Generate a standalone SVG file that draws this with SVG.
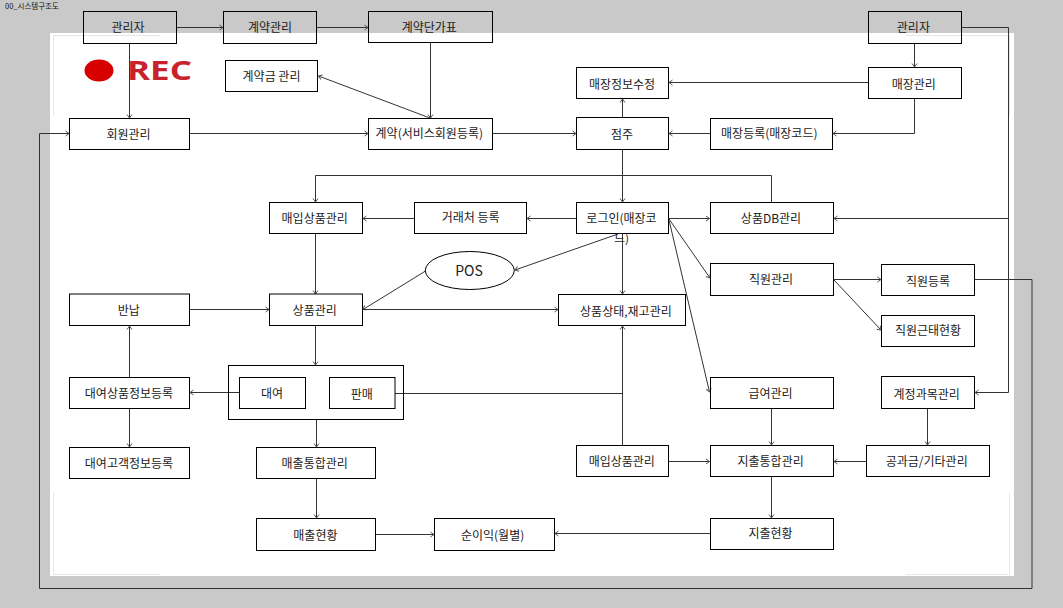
<svg xmlns="http://www.w3.org/2000/svg" width="1063" height="608" viewBox="0 0 1063 608">
<style>
.b{fill:none;stroke:#000;stroke-width:1}
.t{font-family:"Noto Sans CJK KR","Liberation Sans",sans-serif;font-size:12px;fill:#1a1a1a;text-anchor:middle}
.c{fill:none;stroke:#333;stroke-width:1;marker-end:url(#a)}
.n{fill:none;stroke:#333;stroke-width:1}
.m{fill:none;stroke:#e6e6e6;stroke-width:1}
</style>
<defs>
<marker id="a" markerUnits="userSpaceOnUse" markerWidth="8" markerHeight="8" refX="5" refY="4" orient="auto">
<path d="M1.500 1.500 L5 4 L1.500 6.500" fill="none" stroke="#555" stroke-width="1"/>
</marker>
</defs>
<rect width="1063" height="608" fill="#c9c9c9"/>
<rect x="50" y="33" width="964" height="543" fill="#fff"/>
<path class="m" d="M160 35.500H53.500V116M906 35.500H1009.500V116M53.500 493V574.500H160M906 574.500H1009.500V493"/>
<text x="5" y="9" style="font-family:'Noto Sans CJK KR','Liberation Sans',sans-serif;font-size:7.500px;fill:#111">00_시스템구조도</text>
<g id="rec">
<ellipse cx="99" cy="70.500" rx="14.500" ry="11" fill="#d60000"/>
<text x="127" y="79.500" style="font-family:'Open Sans','Liberation Sans',sans-serif;font-size:27px;font-weight:700;fill:#c8232c" textLength="65" lengthAdjust="spacingAndGlyphs">REC</text>
</g>
<g id="connectors">
<path class="c" d="M177 27.500H223"/>
<path class="c" d="M317 27.500H368"/>
<path class="c" d="M129.500 43.500V118"/>
<path class="c" d="M430.500 42.500V118"/>
<path class="c" d="M430 118L318.500 76"/>
<path class="c" d="M190 133.500H368"/>
<path class="c" d="M492.500 133.500H576"/>
<path class="c" d="M975 279.500H1032V588.500H39.500V133.500H69"/>
<path class="c" d="M914.500 43.500V67"/>
<path class="c" d="M961.700 27.500H1008.500V392.500H975"/>
<path class="c" d="M1008.500 218.500H834"/>
<path class="c" d="M868 82.500H669"/>
<path class="c" d="M914.500 99V133.500H833"/>
<path class="c" d="M710 133.500H669"/>
<path class="c" d="M622.500 117.500V99"/>
<path class="c" d="M622.500 149.500V202"/>
<path class="c" d="M771.500 202.500V175.500H315.500V202"/>
<path class="c" d="M576 218.500H527"/>
<path class="c" d="M414 218.500H363"/>
<path class="c" d="M315.500 233.500V294"/>
<path class="c" d="M669 218.500H709.500"/>
<path class="c" d="M669 219L710 278"/>
<path class="c" d="M669 220L709.500 392"/>
<path class="c" d="M618 234L515 270"/>
<path class="c" d="M622.500 234V294"/>
<path class="c" d="M834 279.500H881"/>
<path class="c" d="M834 280L881 330"/>
<path class="c" d="M425.500 271L363 309.500"/>
<path class="c" d="M363 309.500H558"/>
<path class="c" d="M190 309.500H269"/>
<path class="c" d="M315.500 325.500V365"/>
<path class="c" d="M316.500 419.500V447"/>
<path class="c" d="M316.500 478.500V518"/>
<path class="c" d="M239 392.500H190"/>
<path class="c" d="M129.500 377.500V326"/>
<path class="c" d="M129.500 408.500V447"/>
<path class="n" d="M395 393.500H622.500"/>
<path class="c" d="M622.500 445.500V326"/>
<path class="c" d="M669 461.500H709.500"/>
<path class="c" d="M771.500 408.500V445"/>
<path class="c" d="M927.500 408.500V445"/>
<path class="c" d="M866 461.500H834"/>
<path class="c" d="M771.500 476.500V518"/>
<path class="c" d="M710 533.500H555"/>
<path class="c" d="M376 534.500H434"/>
</g>
<g id="n1"><rect class="b" x="83.500" y="11.500" width="93" height="32"/><text class="t" x="128" y="32">관리자</text></g>
<g id="n2"><rect class="b" x="223.500" y="11.500" width="93" height="32"/><text class="t" x="270" y="32">계약관리</text></g>
<g id="n3"><rect class="b" x="368.500" y="11.500" width="124" height="31"/><text class="t" x="429.300" y="32">계약단가표</text></g>
<g id="n4"><rect class="b" x="225.500" y="60.500" width="92" height="31"/><text class="t" x="271.500" y="80.500">계약금 관리</text></g>
<g id="n5"><rect class="b" x="69.500" y="118.500" width="120" height="31"/><text class="t" x="128.500" y="139">회원관리</text></g>
<g id="n6"><rect class="b" x="368.500" y="118.500" width="124" height="31"/><text class="t" x="429.300" y="138">계약(서비스회원등록)</text></g>
<g id="n7"><rect class="b" x="576.500" y="67.500" width="92" height="31"/><text class="t" x="622" y="88.500">매장정보수정</text></g>
<g id="n8"><rect class="b" x="868.500" y="11.500" width="93" height="32"/><text class="t" x="913.400" y="32">관리자</text></g>
<g id="n9"><rect class="b" x="868.500" y="67.500" width="93" height="31"/><text class="t" x="913.800" y="89">매장관리</text></g>
<g id="n10"><rect class="b" x="576.500" y="117.500" width="92" height="32"/><text class="t" x="622" y="138.500">점주</text></g>
<g id="n11"><rect class="b" x="710.500" y="118.500" width="122" height="31"/><text class="t" x="769.300" y="138">매장등록(매장코드)</text></g>
<g id="n12"><rect class="b" x="269.500" y="202.500" width="93" height="31"/><text class="t" x="314.700" y="223">매입상품관리</text></g>
<g id="n13"><rect class="b" x="414.500" y="202.500" width="112" height="31"/><text class="t" x="470.600" y="222">거래처 등록</text></g>
<g id="n14"><rect class="b" x="576.500" y="202.500" width="92" height="31"/><text class="t" x="621.500" y="222.500">로그인(매장코<tspan x="621.500" dy="20">드)</tspan></text></g>
<g id="n15"><rect class="b" x="710.500" y="202.500" width="123" height="31"/><text class="t" x="771" y="222.500">상품DB관리</text></g>
<g id="n16"><ellipse class="b" cx="469.800" cy="270.500" rx="44.500" ry="19"/><text class="t" x="469" y="275.500" style="font-size:14px">POS</text></g>
<g id="n17"><rect class="b" x="69.500" y="294" width="120" height="31.500"/><text class="t" x="128.800" y="315">반납</text></g>
<g id="n18"><rect class="b" x="269.500" y="294" width="93" height="31.500"/><text class="t" x="314.700" y="315">상품관리</text></g>
<g id="n19"><rect class="b" x="558.500" y="294.500" width="127" height="31"/><text class="t" x="625.900" y="316">상품상태,재고관리</text></g>
<g id="n20"><rect class="b" x="710.500" y="263.500" width="123" height="32"/><text class="t" x="771" y="284">직원관리</text></g>
<g id="n21"><rect class="b" x="881.500" y="264.500" width="93" height="31"/><text class="t" x="928" y="285.500">직원등록</text></g>
<g id="n22"><rect class="b" x="881.500" y="315.500" width="93" height="31"/><text class="t" x="928" y="335">직원근태현황</text></g>
<g id="n23"><rect class="b" x="69.500" y="377.500" width="120" height="31"/><text class="t" x="129" y="398">대여상품정보등록</text></g>
<g id="n24"><rect class="b" x="228.500" y="365.500" width="175" height="54"/>
<g id="n25"><rect class="b" x="239.500" y="377.500" width="66" height="31"/><text class="t" x="272" y="397.500">대여</text></g>
<g id="n26"><rect class="b" x="329.500" y="377.500" width="65.500" height="31"/><text class="t" x="361.700" y="399">판매</text></g></g>
<g id="n27"><rect class="b" x="710.500" y="377.500" width="123" height="31"/><text class="t" x="770.600" y="398">급여관리</text></g>
<g id="n28"><rect class="b" x="881.500" y="376.500" width="93" height="32"/><text class="t" x="926.700" y="399">계정과목관리</text></g>
<g id="n29"><rect class="b" x="69.500" y="447.500" width="120" height="31"/><text class="t" x="129" y="468">대여고객정보등록</text></g>
<g id="n30"><rect class="b" x="256.500" y="447.500" width="119" height="31"/><text class="t" x="314.700" y="468">매출통합관리</text></g>
<g id="n31"><rect class="b" x="576.500" y="445.500" width="92" height="31"/><text class="t" x="621.800" y="466">매입상품관리</text></g>
<g id="n32"><rect class="b" x="710.500" y="445.500" width="123" height="31"/><text class="t" x="770.600" y="466">지출통합관리</text></g>
<g id="n33"><rect class="b" x="866.500" y="445.500" width="123" height="31"/><text class="t" x="926.700" y="466">공과금/기타관리</text></g>
<g id="n34"><rect class="b" x="256.500" y="518.500" width="119" height="32"/><text class="t" x="315.400" y="540">매출현황</text></g>
<g id="n35"><rect class="b" x="434.500" y="518.500" width="120" height="32"/><text class="t" x="492.600" y="539.500">순이익(월별)</text></g>
<g id="n36"><rect class="b" x="710.500" y="518.500" width="123" height="31"/><text class="t" x="770.600" y="538">지출현황</text></g>
</svg>
